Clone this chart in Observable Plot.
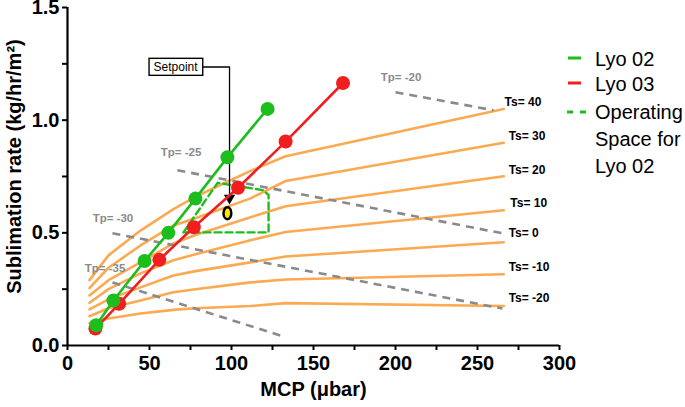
<!DOCTYPE html>
<html>
<head>
<meta charset="utf-8">
<script src="https://cdn.jsdelivr.net/npm/d3@7"></script>
<script src="https://cdn.jsdelivr.net/npm/@observablehq/plot@0.6"></script>
<style>
  html, body { margin: 0; padding: 0; background: white; }
  #chart { position: relative; width: 685px; height: 407px; }
</style>
</head>
<body>
<div id="chart"></div>
<script>
// ---------- data ----------
// Lyo 02 (green) runs
const lyo02Mcp  = [17.5, 28, 47, 61.5, 78, 97.5, 122];
const lyo02Rate = [0.09, 0.20, 0.375, 0.50, 0.652, 0.835, 1.05];
// Lyo 03 (red) runs
const lyo03Mcp  = [17, 31.5, 56, 77, 104, 133, 168];
const lyo03Rate = [0.075, 0.185, 0.38, 0.525, 0.70, 0.905, 1.165];
// Setpoint
const setpointMcp = [97.5];
const setpointRate = [0.587];
const setpointLabel = "Setpoint";
const setpointLabelMcp = 65.9;
const setpointLabelRate = 1.236;
const setpointArrowRate = 0.655;

// Shelf temperature (Ts) iso-lines
const tsMcp = [13.4, 25, 44.5, 64.6, 78, 111.6, 133, 266];
const tsLabels = ["Ts= 40", "Ts= 30", "Ts= 20", "Ts= 10", "Ts= 0", "Ts= -10", "Ts= -20"];
const tsRates = [
  [0.29, 0.40, 0.51, 0.605, 0.66, 0.775, 0.84, 1.05],
  [0.255, 0.345, 0.444, 0.533, 0.565, 0.653, 0.73, 0.90],
  [0.222, 0.29, 0.369, 0.453, 0.49, 0.569, 0.618, 0.751],
  [0.19, 0.25, 0.32, 0.378, 0.405, 0.467, 0.504, 0.60],
  [0.16, 0.205, 0.258, 0.311, 0.33, 0.369, 0.395, 0.458],
  [0.13, 0.165, 0.20, 0.236, 0.25, 0.28, 0.293, 0.316],
  [0.10, 0.12, 0.142, 0.158, 0.165, 0.175, 0.188, 0.175]
];
const tsLabelMcp  = [266.5, 269, 269, 270, 269, 269, 269];
const tsLabelRate = [1.079, 0.928, 0.777, 0.630, 0.497, 0.346, 0.209];

// Product temperature (Tp) iso-lines (dashed)
const tpLabels   = ["Tp= -20", "Tp= -25", "Tp= -30", "Tp= -35"];
const tpMcpStart  = [200, 67, 27.4, 27.4];
const tpRateStart = [1.124, 0.778, 0.498, 0.28];
const tpMcpEnd    = [259.8, 265.2, 265.2, 129.9];
const tpRateEnd   = [1.044, 0.498, 0.164, 0.044];
const tpLabelMcp  = [203.4, 69.2, 27.7, 22.9];
const tpLabelRate = [1.19, 0.857, 0.564, 0.342];

// Operating space for Lyo 02 (dashed polygon)
const opMcp  = [70.7, 91.5, 119.5, 122.6, 122.6, 70.7];
const opRate = [0.502, 0.722, 0.689, 0.667, 0.502, 0.502];

// axis ticks
const xTicks = [0, 25, 50, 75, 100, 125, 150, 175, 200, 225, 250, 275, 300];
const yTicks = [0, 0.25, 0.5, 0.75, 1.0, 1.25, 1.5];

// ---------- tables built from the arrays ----------
const GREEN = "#1ebd1e", RED = "#f01e1e", ORANGE = "#fbaa52", GRAY = "#8a8a8a";
const FONT = "'Liberation Sans', Arial, Helvetica, sans-serif";

const lyo02 = lyo02Mcp.map((x, i) => ({x, y: lyo02Rate[i]}));
const lyo03 = lyo03Mcp.map((x, i) => ({x, y: lyo03Rate[i]}));
const setpoint = setpointMcp.map((x, i) => ({x, y: setpointRate[i]}));
const tsRows = tsLabels.flatMap((ts, i) => tsMcp.map((x, j) => ({ts, x, y: tsRates[i][j]})));
const tsText = tsLabels.map((t, i) => ({t, x: tsLabelMcp[i], y: tsLabelRate[i]}));
const tpRows = tpLabels.map((t, i) => ({t, x1: tpMcpStart[i], y1: tpRateStart[i], x2: tpMcpEnd[i], y2: tpRateEnd[i]}));
const tpText = tpLabels.map((t, i) => ({t, x: tpLabelMcp[i], y: tpLabelRate[i]}));
const opRows = opMcp.map((x, i) => ({x, y: opRate[i]}));
const spElbow = [
  {x: setpointLabelMcp, y: setpointLabelRate},
  {x: setpointMcp[0] + 1.3, y: setpointLabelRate},
  {x: setpointMcp[0] + 1.3, y: setpointArrowRate}
];
const spText = [{t: setpointLabel, x: setpointLabelMcp, y: setpointLabelRate}];

const k = 0.5523;
const ellipse = {
  draw(ctx) {
    const rx = 3.9, ry = 5.9;
    ctx.moveTo(rx, 0);
    ctx.bezierCurveTo(rx, k * ry, k * rx, ry, 0, ry);
    ctx.bezierCurveTo(-k * rx, ry, -rx, k * ry, -rx, 0);
    ctx.bezierCurveTo(-rx, -k * ry, -k * rx, -ry, 0, -ry);
    ctx.bezierCurveTo(k * rx, -ry, rx, -k * ry, rx, 0);
    ctx.closePath();
  }
};

const svg = Plot.plot({
  width: 685,
  height: 407,
  marginLeft: 67,
  marginRight: 126,
  marginTop: 7,
  marginBottom: 62,
  x: {domain: [0, 300], label: null},
  y: {domain: [0, 1.5], label: null},
  style: {fontFamily: FONT, fontSize: "19px", fontWeight: "bold", color: "black", background: "white", overflow: "visible"},
  marks: [
    // Ts lines
    Plot.line(tsRows, {x: "x", y: "y", z: "ts", stroke: ORANGE, strokeWidth: 2.6}),
    Plot.text(tsText, {x: "x", y: "y", text: "t", textAnchor: "start", fontSize: 12, fontWeight: "bold", fill: "black"}),
    // Tp dashed lines
    Plot.link(tpRows, {x1: "x1", y1: "y1", x2: "x2", y2: "y2", stroke: GRAY, strokeWidth: 2.6, strokeDasharray: "8,6"}),
    Plot.text(tpText, {x: "x", y: "y", text: "t", fontSize: 11.5, fontWeight: "bold", fill: GRAY}),
    // operating space
    Plot.line(opRows, {x: "x", y: "y", stroke: GREEN, strokeWidth: 2.4, strokeDasharray: "7,4"}),
    // setpoint annotation
    Plot.line(spElbow, {x: "x", y: "y", stroke: "black", strokeWidth: 1.3}),
    Plot.dot([spElbow[2]], {x: "x", y: "y", symbol: "triangle", rotate: 180, r: 4.2, fill: "black", stroke: "none"}),
    Plot.text(spText, {x: "x", y: "y", text: "t", fontSize: 12, fontWeight: "normal", fill: "black"}),
    // series
    Plot.line(lyo02, {x: "x", y: "y", stroke: GREEN, strokeWidth: 2.6}),
    Plot.line(lyo03, {x: "x", y: "y", stroke: RED, strokeWidth: 2.6}),
    Plot.dot(lyo03, {x: "x", y: "y", r: 7, fill: RED, stroke: "none"}),
    Plot.dot(lyo02, {x: "x", y: "y", r: 7, fill: GREEN, stroke: "none"}),
    Plot.dot(setpoint, {x: "x", y: "y", symbol: ellipse, fill: "#ffe600", stroke: "black", strokeWidth: 2.5}),
    // axes
    Plot.axisX(xTicks, {tickSize: 5, tickPadding: 5, strokeWidth: 2, fontSize: 20, fontWeight: "bold", tickFormat: d => d % 50 === 0 ? String(d) : "", label: null}),
    Plot.axisY(yTicks, {tickSize: 5, tickPadding: 3, strokeWidth: 2, fontSize: 20, fontWeight: "bold", tickFormat: d => (d * 2) % 1 === 0 ? d.toFixed(1) : "", label: null}),
    Plot.ruleX([0], {strokeWidth: 2.2}),
    Plot.ruleY([0], {strokeWidth: 2.2}),
    Plot.text(["MCP (\u03bcbar)"], {frameAnchor: "bottom", dy: 50, fontSize: 20, fontWeight: "bold", fill: "black"}),
    Plot.text(["Sublimation rate (kg/hr/m\u00b2)"], {frameAnchor: "left", textAnchor: "middle", dx: -53, dy: -10, rotate: -90, fontSize: 20, fontWeight: "bold", fill: "black"})
  ]
});

document.getElementById("chart").appendChild(svg);

// box around the setpoint label
d3.select(svg).selectAll("text")
  .filter(function() { return this.textContent === setpointLabel; })
  .each(function() {
    const bb = this.getBBox();
    d3.select(this.parentNode).insert("rect", () => this)
      .attr("x", bb.x - 4.5).attr("y", bb.y - 1.5)
      .attr("width", bb.width + 9).attr("height", bb.height + 3)
      .attr("transform", this.getAttribute("transform"))
      .attr("fill", "white").attr("stroke", "black").attr("stroke-width", 1.4);
  });

// legend (right side)
const lg = d3.select(svg).append("g")
  .attr("font-family", FONT).attr("font-size", 20).attr("font-weight", "normal")
  .attr("fill", "black").attr("text-anchor", "start");
lg.append("line").attr("x1", 568).attr("x2", 581).attr("y1", 58).attr("y2", 58).attr("stroke", GREEN).attr("stroke-width", 3);
lg.append("text").attr("x", 595).attr("y", 66).text("Lyo 02");
lg.append("line").attr("x1", 568).attr("x2", 581).attr("y1", 83).attr("y2", 83).attr("stroke", RED).attr("stroke-width", 3);
lg.append("text").attr("x", 595).attr("y", 91).text("Lyo 03");
lg.append("line").attr("x1", 567).attr("x2", 588).attr("y1", 112).attr("y2", 112).attr("stroke", GREEN).attr("stroke-width", 3).attr("stroke-dasharray", "6,7");
lg.append("text").attr("x", 595).attr("y", 119).text("Operating");
lg.append("text").attr("x", 595).attr("y", 146).text("Space for");
lg.append("text").attr("x", 595).attr("y", 173).text("Lyo 02");
</script>
</body>
</html>
